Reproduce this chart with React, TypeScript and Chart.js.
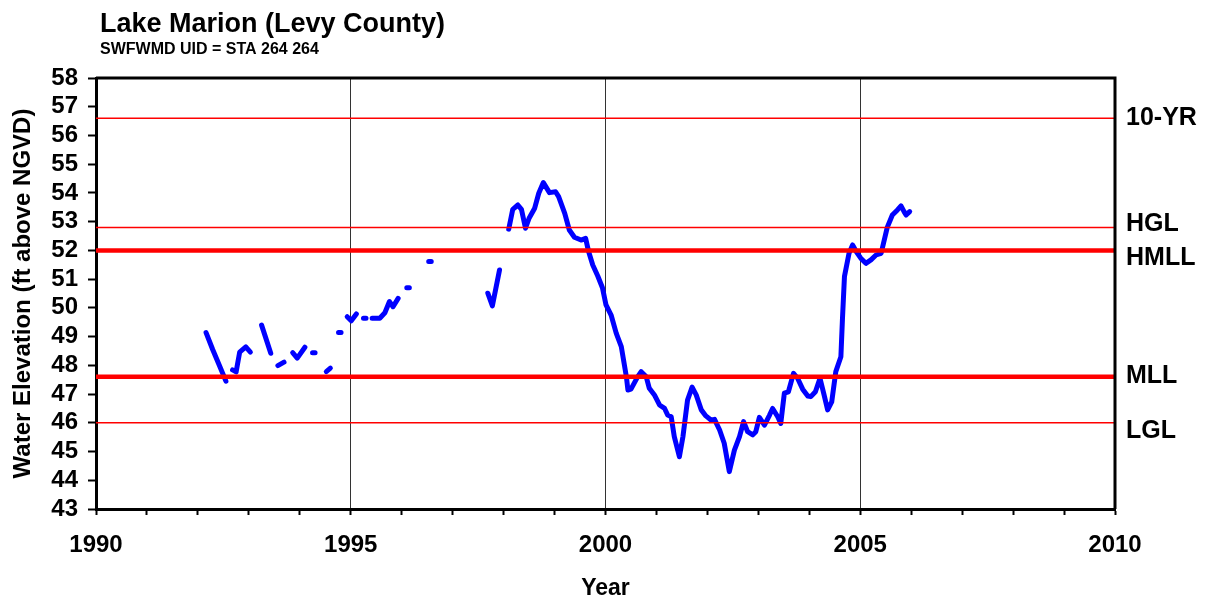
import React, { useEffect, useRef } from "react";
import { Chart, registerables } from "chart.js";

Chart.register(...registerables);

const TITLE = "Lake Marion (Levy County)";
const SUBTITLE = "SWFWMD UID = STA 264 264";
const X_TITLE = "Year";
const Y_TITLE = "Water Elevation (ft above NGVD)";
const X_MIN = 1990;
const X_MAX = 2010;
const Y_MIN = 43;
const Y_MAX = 58;

// Observation dates (decimal years); null levels mark gaps in the record
const years: number[] = [
  1992.16, 1992.29, 1992.42, 1992.55, 1992.61,
  1992.68, 1992.75, 1992.82, 1992.94, 1993.03, 1993.14,
  1993.25, 1993.43, 1993.5,
  1993.57, 1993.69, 1993.78,
  1993.86, 1993.95, 1994.1, 1994.18,
  1994.25, 1994.3, 1994.4,
  1994.52, 1994.6, 1994.68,
  1994.76, 1994.81, 1994.87,
  1994.93, 1995.01, 1995.11, 1995.18,
  1995.25, 1995.3, 1995.36,
  1995.42, 1995.57, 1995.67, 1995.76, 1995.83, 1995.93, 1996.02,
  1996.1, 1996.15, 1996.35,
  1996.53, 1996.58, 1997.2,
  1997.69, 1997.78, 1997.92, 1998.01,
  1998.1, 1998.18, 1998.28, 1998.35, 1998.43, 1998.5, 1998.61, 1998.69, 1998.78,
  1998.9, 1999.02, 1999.08, 1999.2, 1999.29, 1999.39, 1999.52, 1999.61, 1999.67,
  1999.75, 1999.85, 1999.94, 2000.01, 2000.11, 2000.21, 2000.31, 2000.41, 2000.44,
  2000.5, 2000.63, 2000.7, 2000.8, 2000.86, 2000.96, 2001.06, 2001.16, 2001.22,
  2001.29, 2001.35, 2001.45, 2001.52, 2001.61, 2001.7, 2001.78, 2001.88, 2001.97,
  2002.07, 2002.14, 2002.24, 2002.33, 2002.43, 2002.53, 2002.63, 2002.71, 2002.79,
  2002.89, 2002.95, 2003.02, 2003.12, 2003.22, 2003.28, 2003.38, 2003.44, 2003.51,
  2003.59, 2003.69, 2003.77, 2003.87, 2003.97, 2004.03, 2004.12, 2004.21, 2004.29,
  2004.36, 2004.44, 2004.52, 2004.62, 2004.65, 2004.69, 2004.78, 2004.85, 2004.92,
  2005.01, 2005.11, 2005.21, 2005.31, 2005.41, 2005.53, 2005.63, 2005.73, 2005.8,
  2005.86, 2005.9, 2005.97,
];

const levels: (number | null)[] = [
  49.14, 48.55, 48.0, 47.45, null,
  47.84, 47.77, 48.46, 48.64, 48.46, null,
  49.4, 48.42, null,
  47.99, 48.11, null,
  48.44, 48.25, 48.63, null,
  48.44, 48.44, null,
  47.78, 47.9, null,
  49.14, 49.14, null,
  49.69, 49.55, 49.79, null,
  49.64, 49.64, null,
  49.64, 49.64, 49.83, 50.22, 50.04, 50.33, null,
  50.7, 50.7, null,
  51.61, 51.61, null,
  50.51, 50.07, 51.32, null,
  52.74, 53.43, 53.58, 53.43, 52.77, 53.12, 53.47, 53.99, 54.36,
  54.01, 54.04, 53.87, 53.29, 52.71, 52.46, 52.36, 52.42, 51.95,
  51.49, 51.1, 50.7, 50.1, 49.75, 49.12, 48.65, 47.6, 47.14,
  47.17, 47.6, 47.78, 47.6, 47.2, 46.97, 46.62, 46.5, 46.27,
  46.21, 45.52, 44.82, 45.52, 46.79, 47.24, 46.97, 46.45, 46.24,
  46.1, 46.12, 45.75, 45.29, 44.3, 45.05, 45.52, 46.04, 45.69,
  45.58, 45.69, 46.19, 45.92, 46.27, 46.5, 46.21, 45.98, 47.03,
  47.08, 47.72, 47.55, 47.17, 46.93, 46.91, 47.08, 47.55, 46.97,
  46.45, 46.73, 47.78, 48.3, 49.58, 51.09, 51.9, 52.19, 51.96,
  51.73, 51.55, 51.67, 51.84, 51.9, 52.8, 53.23, 53.41, 53.55,
  53.35, 53.23, 53.35,
];

// Regulatory reference levels
const refNames: string[] = ["10-YR", "HGL", "HMLL", "MLL", "LGL"];
const refLevels: number[] = [56.6, 52.8, 52.0, 47.6, 46.0];

const THICK_REFS = new Set(["HMLL", "MLL"]);
const LABEL_SHIFT: Record<string, number> = { "10-YR": 0, HGL: -3, HMLL: 8, MLL: -1, LGL: 8 };

const FONT = "'Liberation Sans', Arial, Helvetica, sans-serif";

const decorPlugin = {
  id: "decor",
  afterDraw(chart: any) {
    const { ctx, chartArea, scales } = chart;
    const y = scales.y;
    ctx.save();
    // frame (top and right)
    ctx.strokeStyle = "#000";
    ctx.lineWidth = 3;
    ctx.beginPath();
    ctx.moveTo(chartArea.left, chartArea.top);
    ctx.lineTo(chartArea.right, chartArea.top);
    ctx.lineTo(chartArea.right, chartArea.bottom);
    ctx.stroke();
    // titles
    ctx.fillStyle = "#000";
    ctx.textAlign = "left";
    ctx.textBaseline = "alphabetic";
    ctx.font = `bold 27px ${FONT}`;
    ctx.fillText(TITLE, 100, 32);
    ctx.font = `bold 16px ${FONT}`;
    ctx.fillText(SUBTITLE, 100, 54);
    // reference labels
    ctx.font = `bold 25px ${FONT}`;
    ctx.textBaseline = "middle";
    refNames.forEach((name, i) => {
      const py = y.getPixelForValue(refLevels[i]) + (LABEL_SHIFT[name] || 0);
      ctx.fillText(name, chartArea.right + 11, py);
    });
    ctx.restore();
  },
};

export default function App() {
  const canvasRef = useRef<HTMLCanvasElement | null>(null);

  useEffect(() => {
    if (!canvasRef.current) return;
    const refSets = refNames.map((name, i) => ({
      label: name,
      data: [
        { x: X_MIN, y: refLevels[i] },
        { x: X_MAX, y: refLevels[i] },
      ],
      borderColor: "#ff0000",
      borderWidth: THICK_REFS.has(name) ? 4.5 : 1.5,
      pointRadius: 0,
      borderCapStyle: "butt",
      fill: false,
    }));
    const series = {
      label: "Water Elevation",
      data: years.map((yr, i) => ({ x: yr, y: levels[i] })),
      borderColor: "#0000ff",
      borderWidth: 5,
      pointRadius: 0,
      borderCapStyle: "round",
      borderJoinStyle: "round",
      spanGaps: false,
      tension: 0,
      fill: false,
    };

    const chart = new Chart(canvasRef.current, {
      type: "line",
      data: { datasets: [...refSets, series] as any },
      options: {
        animation: false,
        responsive: true,
        maintainAspectRatio: false,
        layout: { padding: { left: 0, top: 78, right: 94, bottom: 0 } },
        plugins: {
          legend: { display: false },
          tooltip: { enabled: false },
          title: { display: false },
        },
        scales: {
          x: {
            type: "linear",
            min: X_MIN,
            max: X_MAX,
            afterFit: (s: any) => {
              s.height = 90;
            },
            ticks: {
              stepSize: 1,
              autoSkip: false,
              maxRotation: 0,
              padding: 16,
              color: "#000",
              font: { family: FONT, size: 24, weight: "bold" },
              callback: (v: any) => (Number(v) % 5 === 0 ? String(v) : ""),
            },
            grid: {
              drawTicks: true,
              tickLength: 6,
              tickWidth: 2,
              tickColor: "#000",
              lineWidth: 1,
              color: (c: any) => {
                const v = c.tick ? c.tick.value : 0;
                return v % 5 === 0 && v !== X_MIN && v !== X_MAX ? "#333" : "transparent";
              },
            },
            border: { display: true, color: "#000", width: 3 },
            title: {
              display: true,
              text: X_TITLE,
              color: "#000",
              font: { family: FONT, size: 23, weight: "bold" },
              padding: { top: 0, bottom: -3 },
            },
          },
          y: {
            type: "linear",
            min: Y_MIN,
            max: Y_MAX,
            afterFit: (s: any) => {
              s.width = 96;
            },
            ticks: {
              stepSize: 1,
              autoSkip: false,
              padding: 10,
              color: "#000",
              font: { family: FONT, size: 24, weight: "bold" },
            },
            grid: {
              drawOnChartArea: false,
              drawTicks: true,
              tickLength: 8,
              tickWidth: 2,
              tickColor: "#000",
              color: "#000",
            },
            border: { display: true, color: "#000", width: 3 },
            title: {
              display: true,
              text: Y_TITLE,
              color: "#000",
              font: { family: FONT, size: 24, weight: "bold" },
              padding: { top: 9, bottom: 0 },
            },
          },
        },
      } as any,
      plugins: [decorPlugin],
    });
    return () => chart.destroy();
  }, []);

  return (
    <div style={{ position: "absolute", left: 0, top: 0, width: 1209, height: 599, background: "#fff" }}>
      <canvas ref={canvasRef} />
    </div>
  );
}
